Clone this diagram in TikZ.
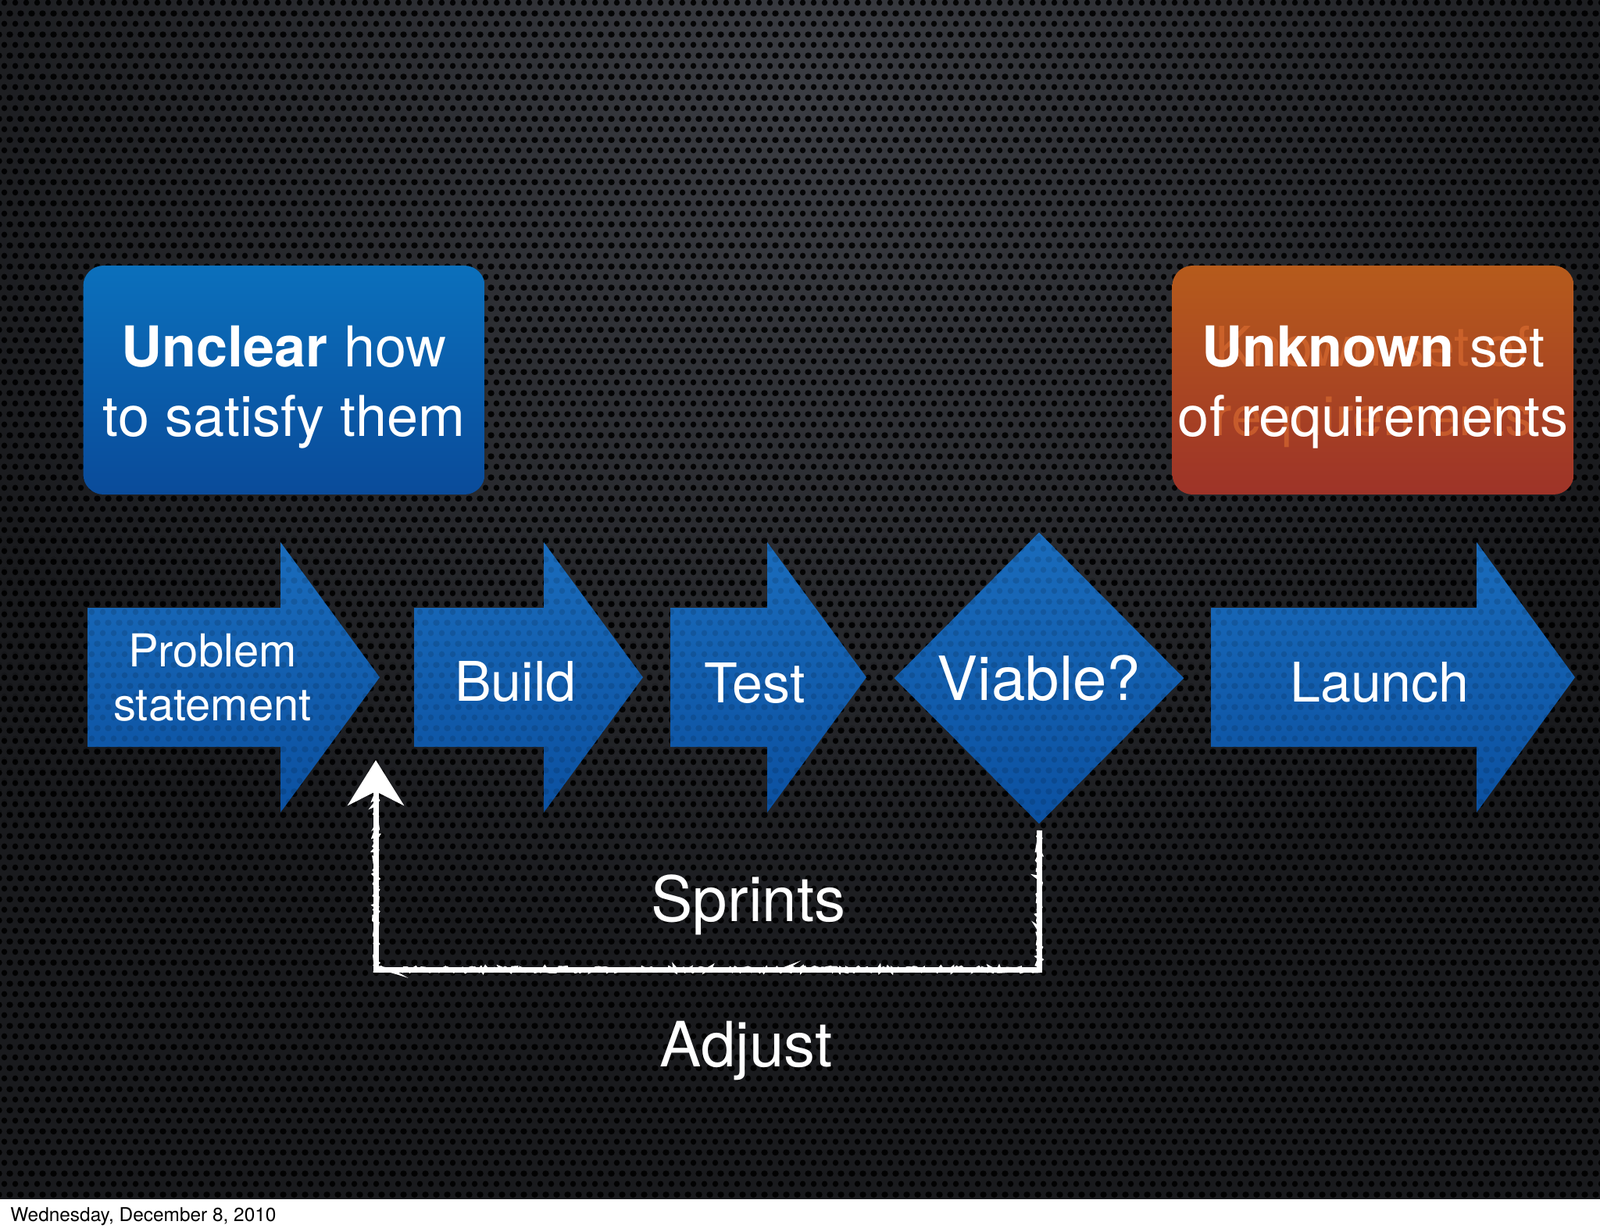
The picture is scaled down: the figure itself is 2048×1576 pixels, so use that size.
\documentclass[tikz,border=0pt]{standalone}
\usepackage{fontspec}
\setmainfont{TeX Gyre Heros}
\usetikzlibrary{shapes.geometric,arrows.meta,patterns.meta,decorations.pathmorphing}

\definecolor{slideBg}{HTML}{191A1D}
\definecolor{slideGlow}{HTML}{3A3C42}
\definecolor{boxBlueA}{HTML}{0B70BC}
\definecolor{boxBlueB}{HTML}{0A4B9A}
\definecolor{flowBlueA}{HTML}{1A6CBC}
\definecolor{flowBlueB}{HTML}{0B50A0}
\definecolor{boxOrangeA}{HTML}{B65B1C}
\definecolor{boxOrangeB}{HTML}{9E3328}
\definecolor{ghostOrange}{HTML}{DE6E32}

% perforated metal texture
\tikzdeclarepattern{
    name=metalHoles,
    type=uncolored,
    bounding box={(0pt,0pt) and (7pt,13.6pt)},
    tile size={(7pt,13.6pt)},
    code={
        \fill (3.5pt,3.4pt) circle (2pt);
        \fill (0pt,10.2pt) circle (2pt);
        \fill (7pt,10.2pt) circle (2pt);
    }
}

\begin{document}
\begin{tikzpicture}[x=0.5pt, y=0.5pt,
    infoBox/.style={rectangle, rounded corners=13pt, inner sep=0pt, minimum width=257pt, minimum height=146.5pt},
    boxText/.style={text=white, align=center, inner sep=0pt, font=\fontsize{36}{44.5}\selectfont},
    flowArrow/.style={top color=flowBlueA, bottom color=flowBlueB},
    flowText/.style={text=white, inner sep=0pt, font=\fontsize{35}{42}\selectfont},
    stepLabel/.style={text=white, inner sep=0pt, font=\fontsize{40}{48}\selectfont},
    chalkLine/.style={draw=white, line width=3.5pt},
    chalkDust/.style={draw=white, line width=2.2pt, decorate, decoration={random steps, segment length=1.6pt, amplitude=1.4pt}}]

    \useasboundingbox (0,0) rectangle (2048,1576);

    % Slide background
    \begin{scope}
        \clip (0,41) rectangle (2048,1576);
        \fill[slideBg] (0,41) rectangle (2048,1576);
        \shade[inner color=slideGlow, outer color=slideBg] (1024,1450) circle (1150);
        \fill[pattern=metalHoles, pattern color=black, opacity=0.9] (0,41) rectangle (2048,1576);
    \end{scope}
    \fill[white] (0,0) rectangle (2048,41);

    % Boxes on top
    \node[infoBox, top color=boxBlueA, bottom color=boxBlueB] (unclearBox) at (363.5,1089.5) {};
    \node[boxText] (unclear) at ([yshift=-4.5pt]unclearBox.center) {\textbf{Unclear} how\\to satisfy them};

    \node[infoBox, top color=boxOrangeA, bottom color=boxOrangeB] (unknownBox) at (1757.5,1089.5) {};
    \node[boxText, text=ghostOrange, opacity=0.6, font=\fontsize{35}{44.5}\selectfont] (known) at ([yshift=-4.5pt]unknownBox.center) {Known set of\\requirements};
    \node[boxText] (unknown) at ([yshift=-4.5pt]unknownBox.center) {\textbf{Unknown} set\\of requirements};

    % Flow arrows
    \shade[flowArrow] (112,620) -- (359,620) -- (359,536) -- (486,709) -- (359,882) -- (359,798) -- (112,798) -- cycle;
    \shade[flowArrow] (530,620) -- (696,620) -- (696,536) -- (823,709) -- (696,882) -- (696,798) -- (530,798) -- cycle;
    \shade[flowArrow] (858,620) -- (982,620) -- (982,536) -- (1109,709) -- (982,882) -- (982,798) -- (858,798) -- cycle;
    \shade[flowArrow] (1550,620) -- (1890,620) -- (1890,536) -- (2016,709) -- (1890,882) -- (1890,798) -- (1550,798) -- cycle;
    \node[diamond, shape aspect=1, inner sep=0pt, minimum width=185.5pt, minimum height=186.5pt, top color=flowBlueA, bottom color=flowBlueB] (viable) at (1330,708) {};
    \fill[pattern=metalHoles, pattern color=black, opacity=0.12] (0,520) rectangle (2048,900);

    \node[flowText, align=center, font=\fontsize{29}{34.5}\selectfont] (problem) at (272,709) {Problem\\statement};
    \node[flowText] (build) at (660,703) {Build};
    \node[flowText] (test) at (966,701) {Test};
    \node[flowText, font=\fontsize{39}{46}\selectfont] (viableText) at (viable.center) {Viable?};
    \node[flowText] (launch) at (1766,702) {Launch};

    % Sprint loop
    \node[stepLabel] (sprints) at (958,418) {Sprints};
    \node[stepLabel] (adjust) at (955,231) {Adjust};

    \coordinate (loopBase) at (481,335);
    \coordinate (loopEnd) at (481,603);
    \draw[chalkLine, -{Stealth[length=29pt, width=36pt, inset=9pt]}] ([yshift=-4pt]viable.south) |- (loopBase) -- (loopEnd);
    \draw[chalkDust] ([yshift=-4pt]viable.south) |- (loopBase) -- ([yshift=-22pt]loopEnd);

    % Footer
    \node[anchor=base west, inner sep=0pt, font=\fontsize{12.2}{14}\selectfont] (date) at (13,13) {Wednesday, December 8, 2010};

\end{tikzpicture}
\end{document}
